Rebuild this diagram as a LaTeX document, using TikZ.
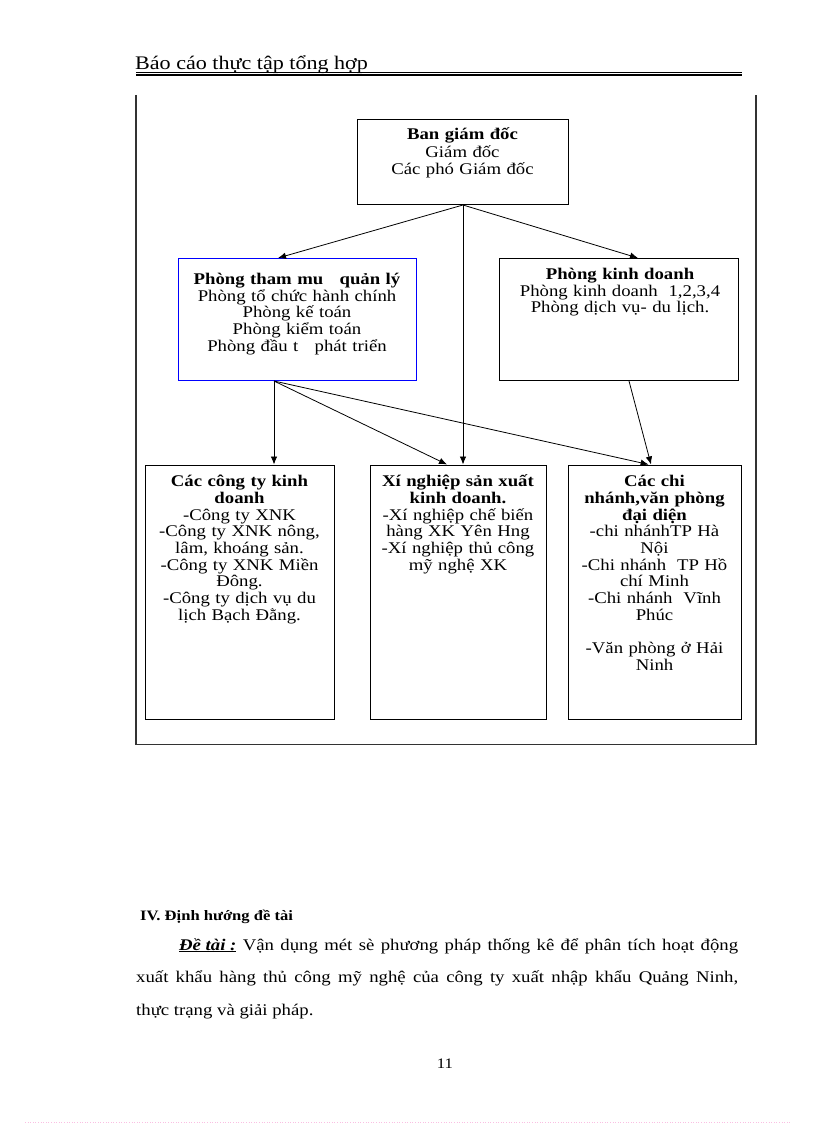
\documentclass[tikz,border=0pt]{standalone}
\usepackage{fontspec}
\setmainfont{Liberation Serif}[FakeStretch=1.15]
\usetikzlibrary{arrows.meta,calc}
\newcommand\tightlines{\lineskiplimit=-50pt\relax\lineskip=0pt\relax}
\begin{document}
\begin{tikzpicture}[x=1pt,y=-1pt,
  orgbox/.style={draw=black, line width=1pt, inner sep=0pt, anchor=north west},
  bluebox/.style={orgbox, draw=blue},
  boxtext/.style={anchor=base, align=center, inner sep=0pt,
    font=\fontsize{16.3}{16.7}\selectfont\tightlines},
  arr/.style={line width=0.8pt, -{Latex[length=8pt,width=6.5pt]}},
  frameline/.style={line width=1.2pt, black!80}
]
\useasboundingbox (0,0) rectangle (816,1123);

% header
\node[anchor=base west, inner sep=0pt, font=\fontsize{19.2}{22}\selectfont] (header) at (135,69.3) {Báo cáo thực tập tổng hợp};
\coordinate (ruleL) at (136,72.7);
\coordinate (ruleR) at (742,72.7);
\draw[line width=1pt] (ruleL) -- (ruleR);
\draw[line width=2pt] ($(ruleL)+(0,2.8)$) -- ($(ruleR)+(0,2.8)$);

% open frame
\coordinate (frTL) at (136,95);
\coordinate (frBL) at (136,744.5);
\coordinate (frBR) at (756,744.5);
\coordinate (frTR) at (756,95);
\draw[frameline] (frTL) -- (frBL) -- (frBR) -- (frTR);

% boxes
\node[orgbox, minimum width=211pt, minimum height=85pt] (ban) at (357,119) {};
\node[bluebox, minimum width=238pt, minimum height=122pt] (tm) at (178,258) {};
\node[orgbox, minimum width=239pt, minimum height=122pt] (kd) at (499,258) {};
\node[orgbox, minimum width=189pt, minimum height=254.5pt] (left) at (145,464.5) {};
\node[orgbox, minimum width=176pt, minimum height=254.5pt] (mid) at (370,464.5) {};
\node[orgbox, minimum width=173pt, minimum height=254.5pt] (right) at (568,464.5) {};

% box texts
\node[boxtext, text width=205pt, font=\fontsize{16.3}{17.4}\selectfont\tightlines] (bantext) at (462.5,140) {\textbf{Ban giám đốc}\\Giám đốc\\Các phó Giám đốc};
\node[boxtext, text width=232pt] (tmtext) at (297,284.5) {\textbf{Phòng tham mu\ \ \ quản lý}\\Phòng tổ chức hành chính\\Phòng kế toán\\Phòng kiểm toán\\Phòng đầu t\ \ \ phát triển};
\node[boxtext, text width=232pt] (kdtext) at (620,279.3) {\textbf{Phòng kinh doanh}\\Phòng kinh doanh\ \ 1,2,3,4\\Phòng dịch vụ- du lịch.};
\node[boxtext, text width=184pt] (lefttext) at (239.5,486.7) {\textbf{Các công ty kinh}\\\textbf{doanh}\\-Công ty XNK\\-Công ty XNK nông,\\lâm, khoáng sản.\\-Công ty XNK Miền\\Đông.\\-Công ty dịch vụ du\\lịch Bạch Đằng.};
\node[boxtext, text width=172pt] (midtext) at (458,486.7) {\textbf{Xí nghiệp sản xuất}\\\textbf{kinh doanh.}\\-Xí nghiệp chế biến\\hàng XK Yên Hng\\-Xí nghiệp thủ công\\mỹ nghệ XK};
\node[boxtext, text width=170pt] (righttext) at (654.5,486.7) {\textbf{Các chi}\\\textbf{nhánh,văn phòng}\\\textbf{đại diện}\\-chi nhánhTP Hà\\Nội\\-Chi nhánh\ \ TP Hồ\\chí Minh\\-Chi nhánh\ \ Vĩnh\\Phúc\\\mbox{}\\-Văn phòng ở Hải\\Ninh};

% connectors
\draw[arr] (ban.south) -- ([xshift=100pt]tm.north west);
\draw[arr] (ban.south) -- ([xshift=139pt]kd.north west);
\draw[arr] (ban.south) -- (ban.south |- mid.north);
\coordinate (tmout) at ([xshift=96pt]tm.south west);
\draw[arr] (tmout) -- (tmout |- left.north);
\draw[arr] (tmout) -- ([xshift=77pt]mid.north west);
\draw[arr] (tmout) -- ([xshift=80.6pt]right.north west);
\draw[arr] ([xshift=130pt]kd.south west) -- ([xshift=83pt]right.north west);

% text below
\node[anchor=base west, inner sep=0pt, font=\fontsize{14.4}{16}\selectfont\bfseries] (sec) at (140,920.7) {IV. Định hướng đề tài};
\node[anchor=base west, text width=602pt, align=justify, inner sep=0pt, font=\fontsize{16.3}{32.5}\selectfont] (body) at (136,950) {\hspace*{43pt}\underline{\textbf{\textit{Đề tài :}}} Vận dụng mét sè phương pháp thống kê để phân tích hoạt động\linebreak xuất khẩu hàng thủ công mỹ nghệ của công ty xuất nhập khẩu Quảng Ninh,\linebreak thực trạng và giải pháp.};
\node[anchor=base, inner sep=0pt, font=\fontsize{14.5}{16}\selectfont] (pnum) at (445,1068) {11};

% faint page edge
\coordinate (edgeL) at (25,1122);
\coordinate (edgeR) at (791,1122);
\draw[magenta!25, dotted, line width=0.6pt] (edgeL) -- (edgeR);
\end{tikzpicture}
\end{document}
